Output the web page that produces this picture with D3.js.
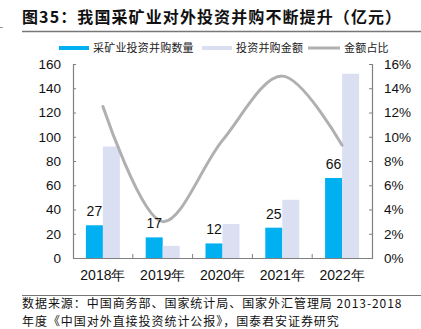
<!DOCTYPE html>
<html>
<head>
<meta charset="utf-8">
<script src="https://cdn.jsdelivr.net/npm/d3@7"></script>
<style>
  body { margin: 0; background: #fff; }
  svg { display: block; }
</style>
</head>
<body>
<div id="chart"></div>
<script>
// data
const years = ['2018年', '2019年', '2020年', '2021年', '2022年'];
const dealCount = [27, 17, 12, 25, 66];
const dealAmount = [92, 10, 28, 48, 152];
const amountShare = [0.125, 0.030, 0.097, 0.150, 0.093];
const leftTicks = [0, 20, 40, 60, 80, 100, 120, 140, 160];
const rightTicks = [0, 0.02, 0.04, 0.06, 0.08, 0.10, 0.12, 0.14, 0.16];

const width = 421, height = 329;
const blue = '#00b0f0', lightBlue = '#dae0f2', grey = '#b0b0b0', axisGrey = '#808080';
const numFont = '"Liberation Sans", Arial, sans-serif';
const cjkFont = '"Noto Sans CJK SC", "Noto Sans", sans-serif';

const svg = d3.select('#chart').append('svg')
  .attr('width', width)
  .attr('height', height);

// title block
svg.append('text')
  .attr('x', 22).attr('y', 23)
  .attr('font-family', cjkFont)
  .attr('font-size', 16)
  .attr('font-weight', 'bold')
  .attr('letter-spacing', 1.1)
  .attr('fill', '#111')
  .text('图35：我国采矿业对外投资并购不断提升（亿元）');
svg.append('line')
  .attr('x1', 22).attr('x2', width).attr('y1', 31.5).attr('y2', 31.5)
  .attr('stroke', '#777').attr('stroke-width', 1.5);
svg.append('line')
  .attr('x1', 0).attr('x2', 3).attr('y1', 27.5).attr('y2', 27.5)
  .attr('stroke', '#999').attr('stroke-width', 1);

// scales
const x = d3.scaleBand().domain(years).range([73, 372]);
const y = d3.scaleLinear().domain([0, 160]).range([258, 64]);
const y2 = d3.scaleLinear().domain([0, 0.16]).range([258, 64]);
const barW = 17;
const cx = d => x(d) + x.bandwidth() / 2;

// bars
svg.append('g').selectAll('rect')
  .data(years)
  .join('rect')
  .attr('x', (d) => cx(d) - barW)
  .attr('y', (d, i) => y(dealCount[i]))
  .attr('width', barW)
  .attr('height', (d, i) => y(0) - y(dealCount[i]))
  .attr('fill', blue);

svg.append('g').selectAll('rect')
  .data(years)
  .join('rect')
  .attr('x', (d) => cx(d))
  .attr('y', (d, i) => y(dealAmount[i]))
  .attr('width', barW)
  .attr('height', (d, i) => y(0) - y(dealAmount[i]))
  .attr('fill', lightBlue);

// share line (smoothed)
const line = d3.line()
  .x((d, i) => cx(years[i]))
  .y(d => y2(d))
  .curve(d3.curveCatmullRom.alpha(0.5));
svg.append('path')
  .datum(amountShare)
  .attr('d', line)
  .attr('fill', 'none')
  .attr('stroke', grey)
  .attr('stroke-width', 3)
  .attr('stroke-linecap', 'round');

// count labels
svg.append('g').selectAll('text')
  .data(years)
  .join('text')
  .attr('x', d => cx(d) - barW / 2)
  .attr('y', (d, i) => y(dealCount[i]) - 9)
  .attr('text-anchor', 'middle')
  .attr('font-family', numFont)
  .attr('font-size', 14)
  .attr('fill', '#111')
  .text((d, i) => dealCount[i]);

// axes
const leftAxis = d3.axisLeft(y).tickValues(leftTicks).tickSizeInner(-3).tickSizeOuter(-3).tickPadding(12);
const rightAxis = d3.axisRight(y2).tickValues(rightTicks).tickSizeInner(-3).tickSizeOuter(-3)
  .tickPadding(12).tickFormat(d3.format('.0%'));
const bottomAxis = d3.axisBottom(x).tickSize(0).tickPadding(12);

function styleAxis(g) {
  g.select('.domain').attr('stroke', axisGrey).attr('stroke-width', 1.2);
  g.selectAll('.tick line').attr('stroke', axisGrey);
  g.selectAll('text')
    .attr('font-family', numFont)
    .attr('font-size', 13.5)
    .attr('fill', '#111');
}

svg.append('g').attr('transform', 'translate(73,0)').call(leftAxis).call(styleAxis);
svg.append('g').attr('transform', 'translate(372,0)').call(rightAxis).call(styleAxis);
const xg = svg.append('g').attr('transform', 'translate(0,258)').call(bottomAxis).call(styleAxis);
xg.selectAll('text').attr('font-size', 14);

// category boundary ticks pointing up
svg.append('g').selectAll('line')
  .data(years.slice(1))
  .join('line')
  .attr('x1', d => x(d)).attr('x2', d => x(d))
  .attr('y1', 258).attr('y2', 254)
  .attr('stroke', axisGrey);

// legend
const legend = [
  { label: '采矿业投资并购数量', color: blue, x: 59, w: 30, h: 4 },
  { label: '投资并购金额', color: lightBlue, x: 202, w: 30, h: 4 },
  { label: '金额占比', color: grey, x: 308, w: 32, h: 3 }
];
const lg = svg.append('g').selectAll('g')
  .data(legend)
  .join('g');
lg.append('rect')
  .attr('x', d => d.x).attr('y', d => 48 - d.h / 2)
  .attr('width', d => d.w).attr('height', d => d.h)
  .attr('fill', d => d.color);
lg.append('text')
  .attr('x', d => d.x + d.w + 4).attr('y', 52)
  .attr('font-family', cjkFont)
  .attr('font-size', 11)
  .attr('letter-spacing', 0.2)
  .attr('fill', '#222')
  .text(d => d.label);

// source footer
svg.append('line')
  .attr('x1', 22).attr('x2', width).attr('y1', 295.5).attr('y2', 295.5)
  .attr('stroke', '#777').attr('stroke-width', 1.2);
svg.append('text')
  .attr('x', 22).attr('y', 308)
  .attr('font-family', cjkFont)
  .attr('font-size', 12)
  .attr('letter-spacing', 0.95)
  .attr('fill', '#111')
  .text('数据来源：中国商务部、国家统计局、国家外汇管理局 2013-2018');
svg.append('text')
  .attr('x', 22).attr('y', 325.5)
  .attr('font-family', cjkFont)
  .attr('font-size', 12)
  .attr('letter-spacing', 0.95)
  .attr('fill', '#111')
  .text('年度《中国对外直接投资统计公报》，国泰君安证券研究');
</script>
</body>
</html>
